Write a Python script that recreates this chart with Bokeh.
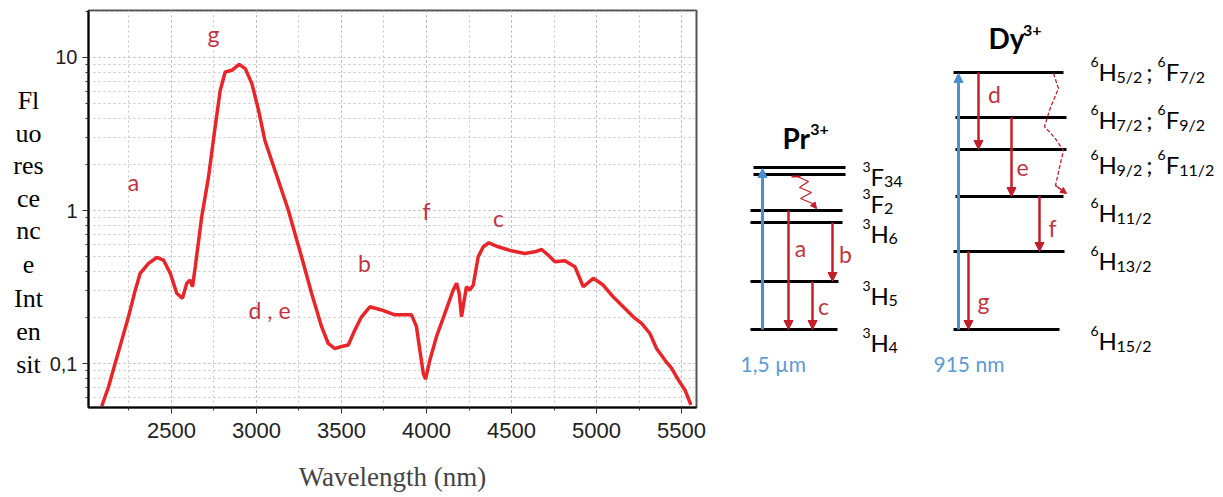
from bokeh.plotting import figure
from bokeh.layouts import row
from bokeh.models import Range1d, FixedTicker, SingleIntervalTicker, Arrow, NormalHead
from bokeh.core.properties import value
from bokeh.embed import file_html
from bokeh.resources import INLINE

# ---------------- data ----------------
wavelength = [2090, 2130, 2169, 2208, 2247, 2287, 2316, 2365, 2414, 2453, 2493, 2531, 2565, 2590,
              2610, 2624, 2640, 2678, 2718, 2757, 2787, 2816, 2855, 2898, 2934, 2973, 3012, 3049,
              3108, 3187, 3265, 3324, 3383, 3422, 3461, 3500, 3540, 3578, 3618, 3667, 3735, 3814,
              3892, 3912, 3941, 3961, 3981, 3994, 4020, 4059, 4108, 4157, 4177, 4192, 4206, 4222,
              4235, 4255, 4275, 4304, 4334, 4367, 4422, 4500, 4578, 4637, 4677, 4716, 4755, 4814,
              4873, 4922, 4981, 5039, 5098, 5157, 5216, 5265, 5314, 5353, 5402, 5441, 5481, 5520, 5555]
intensity = [0.053, 0.071, 0.101, 0.143, 0.203, 0.303, 0.390, 0.453, 0.495, 0.476, 0.390, 0.289, 0.268, 0.336,
             0.352, 0.319, 0.431, 0.912, 1.66, 3.52, 6.10, 8.02, 8.23, 9.00, 8.44, 6.74, 4.52, 2.88,
             1.84, 1.01, 0.500, 0.289, 0.175, 0.136, 0.126, 0.130, 0.133, 0.166, 0.203, 0.236, 0.225, 0.209,
             0.209, 0.209, 0.175, 0.123, 0.0869, 0.0795, 0.106, 0.151, 0.214, 0.303, 0.336, 0.289, 0.203, 0.261,
             0.319, 0.303, 0.327, 0.500, 0.581, 0.617, 0.581, 0.547, 0.526, 0.539, 0.558, 0.513, 0.464, 0.471,
             0.431, 0.319, 0.362, 0.327, 0.274, 0.236, 0.203, 0.184, 0.158, 0.126, 0.106, 0.0938, 0.0787, 0.0677, 0.0541]

band_letters = ["g", "a", "d , e", "b", "f", "c"]
band_wl = [2747, 2277, 3077, 3635, 4000, 4424]
band_int = [14.3, 1.53, 0.225, 0.455, 1.0, 0.894]

y_ticks = [0.1, 1, 10]
y_tick_labels = ["0,1", "1", "10"]
y_minor = [0.06, 0.07, 0.08, 0.09, 0.2, 0.3, 0.4, 0.5, 0.6, 0.7, 0.8, 0.9,
           2, 3, 4, 5, 6, 7, 8, 9, 20]
x_label = "Wavelength (nm)"
y_label_parts = ["Fl", "uo", "res", "ce", "nc", "e", "Int", "en", "sit"]
y_label_pos = [100, 133, 165, 198, 230, 264, 298, 331, 364]

# energy level diagram (schematic, positions in diagram units)
pr_levels_x0 = [753, 753, 750, 750, 750, 750]
pr_levels_x1 = [845, 845, 842, 842, 838, 837]
pr_levels_y = [167, 174, 210, 222, 281, 329]
dy_levels_x0 = [953, 955, 955, 955, 953, 953]
dy_levels_x1 = [1063, 1066, 1066, 1063, 1064, 1059]
dy_levels_y = [72, 117, 149, 196, 251, 329]

pump_x = [762, 958]
pump_from = [329, 329]
pump_to = [168, 73]
pump_labels = ["1,5 µm", "915 nm"]
pump_label_x = [740, 933]

trans_letters = ["a", "b", "c", "d", "e", "f", "g"]
trans_x = [788, 832, 812, 978, 1011, 1039, 968]
trans_from = [210, 222, 281, 72, 117, 196, 251]
trans_to = [329, 281, 329, 149, 196, 251, 329]
trans_lx = [800, 845, 823, 994, 1022, 1052, 983]
trans_ly = [247, 253, 305, 93, 167, 227, 300]

pr_wavy_x = [797, 808, 799, 811, 800, 812, 816]
pr_wavy_y = [176, 181, 187, 192, 198, 203, 208]
dy_wavy_x = [1053, 1058, 1050, 1044, 1054, 1063, 1059, 1055, 1066]
dy_wavy_y = [73, 88, 107, 126, 137, 150, 167, 185, 193]

pr_terms = [[("3", "F", "34")], [("3", "F", "2")], [("3", "H", "6")], [("3", "H", "5")], [("3", "H", "4")]]
pr_term_base = [176, 203, 233, 295, 342]
dy_terms = [[("6", "H", "5/2"), ("6", "F", "7/2")],
            [("6", "H", "7/2"), ("6", "F", "9/2")],
            [("6", "H", "9/2"), ("6", "F", "11/2")],
            [("6", "H", "11/2")],
            [("6", "H", "13/2")],
            [("6", "H", "15/2")]]
dy_term_base = [71, 119, 164, 212, 260, 340]

# ---------------- styles ----------------
RED = "#e8262a"
LETTER = "#bf3440"
ARROW_RED = "#c21f2b"
BLUE = "#4a8fd0"
BLUE_TXT = "#5b9bd5"
SERIF = value("Liberation Serif")
SANS = value("Lato")
H = 497
FT, FB = 10, 407   # frame top / bottom shared by the row

# ---------------- y label column ----------------
p_lab = figure(width=46, height=H, x_range=Range1d(0, 46), y_range=Range1d(FB, FT),
               output_backend="svg", toolbar_location=None, min_border_left=0, min_border_right=0,
               min_border_top=FT, min_border_bottom=H - FB,
               x_axis_location=None, y_axis_location=None, outline_line_color=None)
p_lab.xgrid.visible = False
p_lab.ygrid.visible = False
p_lab.text(x=[28] * len(y_label_parts), y=y_label_pos, text=y_label_parts,
           text_font=SERIF, text_font_size="26px", text_align="center",
           text_baseline="middle", text_color="black")

# ---------------- spectrum ----------------
p = figure(width=672, height=H, x_range=Range1d(2012, 5588), y_range=Range1d(0.052, 20.2),
           y_axis_type="log", output_backend="svg", toolbar_location=None,
           min_border_left=41, min_border_right=22, min_border_top=FT, min_border_bottom=H - FB)
p.line(wavelength, intensity, line_color=RED, line_width=3.5)
p.text(x=band_wl, y=band_int, text=band_letters, text_font=SANS, text_font_size="23px",
       text_align="center", text_baseline="middle", text_color=LETTER)

p.xaxis.ticker = SingleIntervalTicker(interval=500, num_minor_ticks=2)
p.yaxis.ticker = FixedTicker(ticks=y_ticks, minor_ticks=y_minor)
p.yaxis.major_label_overrides = {t: l for t, l in zip(y_ticks, y_tick_labels)}
p.xaxis.axis_label = x_label
p.xaxis.axis_label_text_font = "Liberation Serif"
p.xaxis.axis_label_text_font_size = "27px"
p.xaxis.axis_label_text_font_style = "normal"
p.xaxis.axis_label_standoff = 21
p.xaxis.major_label_text_font_size = "22px"
p.yaxis.major_label_text_font_size = "20px"
p.axis.major_label_text_font = "Liberation Sans"
p.axis.major_label_text_color = "#222222"
p.xaxis.major_label_standoff = 9
p.yaxis.major_label_standoff = 5
p.axis.axis_line_color = "black"
p.axis.axis_line_width = 2
p.axis.major_tick_in = 0
p.axis.major_tick_out = 6
p.axis.minor_tick_in = 0
p.axis.minor_tick_out = 3
p.axis.major_tick_line_color = "#333333"
p.axis.minor_tick_line_color = "#333333"
for g in (p.xgrid, p.ygrid):
    g.grid_line_color = "#b5b5b5"
    g.grid_line_dash = "2 3"
    g.minor_grid_line_color = "#c5c5c5"
    g.minor_grid_line_dash = "2 3"
p.outline_line_color = "#555555"
p.outline_line_width = 2

# ---------------- energy diagram ----------------
p2 = figure(width=505, height=H, x_range=Range1d(718, 1223), y_range=Range1d(FB, FT),
            output_backend="svg", toolbar_location=None, min_border_left=0, min_border_right=0,
            min_border_top=FT, min_border_bottom=H - FB,
            x_axis_location=None, y_axis_location=None, outline_line_color=None)
p2.xgrid.visible = False
p2.ygrid.visible = False

p2.segment(x0=pr_levels_x0, y0=pr_levels_y, x1=pr_levels_x1, y1=pr_levels_y, line_color="black", line_width=3)
p2.segment(x0=dy_levels_x0, y0=dy_levels_y, x1=dy_levels_x1, y1=dy_levels_y, line_color="black", line_width=3)

for x, y0, y1 in zip(pump_x, pump_from, pump_to):
    p2.add_layout(Arrow(end=NormalHead(size=9, fill_color=BLUE, line_color=BLUE),
                        x_start=x, y_start=y0, x_end=x, y_end=y1, line_color=BLUE, line_width=3))
for x, y0, y1 in zip(trans_x, trans_from, trans_to):
    p2.add_layout(Arrow(end=NormalHead(size=9, fill_color=ARROW_RED, line_color=ARROW_RED),
                        x_start=x, y_start=y0, x_end=x, y_end=y1, line_color=ARROW_RED, line_width=2.5))

p2.line(pr_wavy_x, pr_wavy_y, line_color=ARROW_RED, line_width=1.3)
p2.segment(x0=[791], y0=[176], x1=[800], y1=[176], line_color=ARROW_RED, line_width=2)
p2.add_layout(Arrow(end=NormalHead(size=6, fill_color=ARROW_RED, line_color=ARROW_RED),
                    x_start=pr_wavy_x[-2], y_start=pr_wavy_y[-2], x_end=pr_wavy_x[-1], y_end=pr_wavy_y[-1],
                    line_color=ARROW_RED, line_width=1.3))
p2.line(dy_wavy_x, dy_wavy_y, line_color=ARROW_RED, line_width=1.3, line_dash="4 2")
p2.add_layout(Arrow(end=NormalHead(size=6, fill_color=ARROW_RED, line_color=ARROW_RED),
                    x_start=dy_wavy_x[-2], y_start=dy_wavy_y[-2], x_end=dy_wavy_x[-1], y_end=dy_wavy_y[-1],
                    line_color=ARROW_RED, line_width=1.3))

p2.text(x=trans_lx, y=trans_ly, text=trans_letters, text_font=SANS, text_font_size="23px",
        text_align="center", text_baseline="middle", text_color=LETTER)
p2.text(x=pump_label_x, y=[363, 363], text=pump_labels, text_font=SANS, text_font_size="21px",
        text_align="left", text_baseline="middle", text_color=BLUE_TXT)

# rich (super/subscript) text composition
WID = {"H": 0.74, "F": 0.56, "/": 0.38, ";": 0.25, " ": 0.22, "P": 0.64, "r": 0.42, "D": 0.76,
       "y": 0.54, "+": 0.58}


def width(s, size):
    return sum(WID.get(c, 0.58) for c in s) * size


parts = {"n": ([], [], []), "sup": ([], [], []), "sub": ([], [], [])}
BASE, SUP, SUB = 24, 14, 16


def put(kind, x, y, t):
    parts[kind][0].append(x)
    parts[kind][1].append(y)
    parts[kind][2].append(t)


def term_row(x, base, terms):
    for i, (sup, letter, sub) in enumerate(terms):
        if i > 0:
            x += width(" ", BASE)
            put("n", x, base, ";")
            x += width("; ", BASE)
        put("sup", x, base - 10, sup)
        x += width(sup, SUP)
        put("n", x, base, letter)
        x += width(letter, BASE)
        put("sub", x, base + 5, sub)
        x += width(sub, SUB)


for terms, b in zip(pr_terms, pr_term_base):
    term_row(862, b, terms)
for terms, b in zip(dy_terms, dy_term_base):
    term_row(1090, b, terms)

for kind, size in (("n", BASE), ("sup", SUP), ("sub", SUB)):
    xs, ys, ts = parts[kind]
    p2.text(x=xs, y=ys, text=ts, text_font=SANS, text_font_size=f"{size}px",
            text_align="left", text_baseline="alphabetic", text_color="black")

# ion titles
p2.text(x=[782, 988], y=[137, 37], text=["Pr", "Dy"], text_font=SANS, text_font_size="28px",
        text_font_style="bold", text_align="left", text_baseline="alphabetic", text_color="black")
p2.text(x=[782 + width("Pr", 28) - 2, 988 + width("Dy", 28) - 2], y=[129, 30], text=["3+", "3+"],
        text_font=SANS, text_font_size="16px", text_font_style="bold", text_align="left",
        text_baseline="alphabetic", text_color="black")

layout = row(p_lab, p, p2)
open("out.html", "w").write(file_html(layout, INLINE))
